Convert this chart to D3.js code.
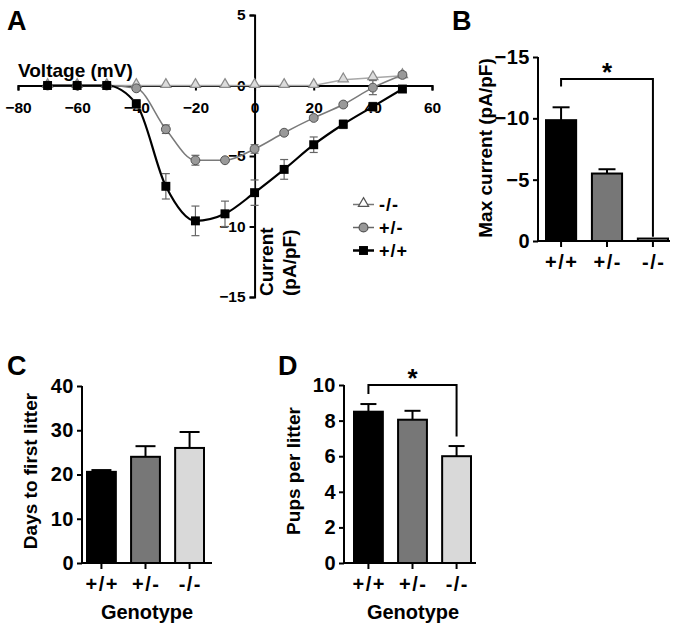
<!DOCTYPE html>
<html><head><meta charset="utf-8">
<script src="https://cdn.jsdelivr.net/npm/d3@7"></script>
<style>
body{margin:0;background:#fff}
svg{display:block;background:#fff}
text{font-family:"Liberation Sans",Arial,sans-serif;font-weight:bold;fill:#000}
</style>
</head><body>
<svg id="c" width="683" height="629"></svg>
<script>
// ---------- DATA ----------
const voltages   = [-70,-60,-50,-40,-30,-20,-10,0,10,20,30,40,50];
const koCurrent  = [0,0,0,0,0,0,0,0,0,0,0.4,0.55,0.7];
const hetCurrent = [0,0,0,-0.2,-3.1,-5.3,-5.3,-4.5,-3.35,-2.3,-1.35,-0.15,0.75];
const hetErr     = [0,0,0,0.1,0.3,0.35,0.15,0.3,0.15,0.15,0.15,0.5,0.2];
const wtCurrent  = [0,0,0,-1.3,-7.15,-9.6,-9.1,-7.6,-5.95,-4.2,-2.75,-1.5,-0.25];
const wtErr      = [0,0,0,0.3,0.9,1.05,0.9,0.9,0.7,0.55,0.3,0.3,0.2];
const xTicksA    = [-80,-60,-40,-20,0,20,40,60];
const yTicksA    = [-15,-10,-5,0,5];
const legendLabels = ["-/-","+/-","+/+"];

const genotypes     = ["+/+","+/-","-/-"];
const maxCurrent    = [-9.85,-5.5,-0.2];
const maxCurrentErr = [1.05,0.35,0];
const yTicksB       = [0,-5,-10,-15];

const daysFirstLitter = [20.6,24.0,26.0];
const daysErr         = [0.4,2.4,3.6];
const yTicksC         = [0,10,20,30,40];

const pupsPerLitter = [8.5,8.05,6.0];
const pupsErr       = [0.43,0.5,0.57];
const yTicksD       = [0,2,4,6,8,10];

// ---------- STYLE ----------
const barFill = ["#000000","#777777","#d9d9d9"];
const svg = d3.select("#c");

function styleAxis(g, fs){
  g.selectAll("path.domain").attr("stroke","#000").attr("stroke-width",2);
  g.selectAll(".tick line").attr("stroke","#000").attr("stroke-width",2);
  g.selectAll(".tick text").attr("font-size",fs).attr("fill","#000")
    .style("font-family",'"Liberation Sans",Arial,sans-serif').style("font-weight","bold");
}

// ---------- PANEL A ----------
const xA = d3.scaleLinear().domain([-80,60]).range([18,432]);
const yA = d3.scaleLinear().domain([-15,5]).range([297,15]);
const gA = svg.append("g");

const gxA = gA.append("g").attr("transform",`translate(0,${yA(0)})`)
  .call(d3.axisBottom(xA).tickValues(xTicksA).tickSize(5).tickSizeOuter(5).tickPadding(11));
styleAxis(gxA,15.5);
const gyA = gA.append("g").attr("transform",`translate(${xA(0)},0)`)
  .call(d3.axisLeft(yA).tickValues(yTicksA).tickSize(5).tickSizeOuter(5).tickPadding(4));
styleAxis(gyA,15.5);

gA.append("text").attr("x",18).attr("y",77).attr("font-size",19).text("Voltage (mV)");
const curLab = gA.append("text").attr("transform",`translate(273,296) rotate(-90)`).attr("font-size",19);
curLab.append("tspan").attr("x",0).attr("y",0).text("Current");
curLab.append("tspan").attr("x",0).attr("y",23).text("(pA/pF)");

const ptsKO  = voltages.map((v,i)=>({v,c:koCurrent[i],e:0}));
const ptsHet = voltages.map((v,i)=>({v,c:hetCurrent[i],e:hetErr[i]}));
const ptsWT  = voltages.map((v,i)=>({v,c:wtCurrent[i],e:wtErr[i]}));

const lineLin = d3.line().x(d=>xA(d.v)).y(d=>yA(d.c));
const lineSm  = d3.line().x(d=>xA(d.v)).y(d=>yA(d.c)).curve(d3.curveMonotoneX);

gA.append("path").datum(ptsKO).attr("d",lineLin).attr("fill","none").attr("stroke","#a8a8a8").attr("stroke-width",1.5);
gA.append("path").datum(ptsHet).attr("d",lineSm).attr("fill","none").attr("stroke","#7a7a7a").attr("stroke-width",1.5);
gA.append("path").datum(ptsWT).attr("d",lineSm).attr("fill","none").attr("stroke","#000").attr("stroke-width",2.2);

function errBarsA(pts, color){
  const g = gA.append("g").attr("stroke",color).attr("stroke-width",1.2);
  pts.filter(d=>d.e>0).forEach(d=>{
    const x=xA(d.v), y1=yA(d.c-d.e), y2=yA(d.c+d.e);
    g.append("line").attr("x1",x).attr("x2",x).attr("y1",y1).attr("y2",y2);
    g.append("line").attr("x1",x-4).attr("x2",x+4).attr("y1",y1).attr("y2",y1);
    g.append("line").attr("x1",x-4).attr("x2",x+4).attr("y1",y2).attr("y2",y2);
  });
}
errBarsA(ptsHet,"#666");
errBarsA(ptsWT,"#666");

const triSym = d3.symbol().type(d3.symbolTriangle).size(45);
const cirSym = d3.symbol().type(d3.symbolCircle).size(62);
const sqSym  = d3.symbol().type(d3.symbolSquare).size(80);

gA.append("g").selectAll("path").data(ptsKO).join("path")
  .attr("d",triSym).attr("transform",d=>`translate(${xA(d.v)},${yA(d.c)-1})`)
  .attr("fill","#dcdcdc").attr("stroke","#8a8a8a").attr("stroke-width",1.2);
gA.append("g").selectAll("path").data(ptsHet).join("path")
  .attr("d",cirSym).attr("transform",d=>`translate(${xA(d.v)},${yA(d.c)})`)
  .attr("fill","#999").attr("stroke","#555").attr("stroke-width",1);
gA.append("g").selectAll("path").data(ptsWT).join("path")
  .attr("d",sqSym).attr("transform",d=>`translate(${xA(d.v)},${yA(d.c)})`)
  .attr("fill","#000");

// legend
const legY = d3.scaleBand().domain(legendLabels).range([193,262]);
const legSpec = {"-/-":{sym:triSym,fill:"#fff",stroke:"#555",line:"#777",lw:1.5},
                 "+/-":{sym:cirSym,fill:"#999",stroke:"#555",line:"#666",lw:1.5},
                 "+/+":{sym:sqSym,fill:"#000",stroke:"none",line:"#000",lw:2.5}};
legendLabels.forEach(l=>{
  const y = legY(l)+legY.bandwidth()/2, s=legSpec[l];
  gA.append("line").attr("x1",353).attr("x2",374).attr("y1",y).attr("y2",y).attr("stroke",s.line).attr("stroke-width",s.lw);
  gA.append("path").attr("d",s.sym).attr("transform",`translate(363.5,${y-(l==="-/-"?1:0)})`)
    .attr("fill",s.fill).attr("stroke",s.stroke).attr("stroke-width",1.2);
  gA.append("text").attr("x",379).attr("y",y+6.5).attr("font-size",18).attr("letter-spacing",1).text(l);
});

// ---------- BAR PANEL HELPER ----------
function barPanel(opt){
  const g = svg.append("g");
  const x = d3.scaleBand().domain(genotypes).range(opt.barRange).paddingInner(0.3).paddingOuter(0);
  const y = d3.scaleLinear().domain(opt.yDomain).range([opt.y0,opt.yTop]);
  // bars
  g.selectAll("rect").data(opt.values).join("rect")
    .attr("x",(d,i)=>x(genotypes[i])+1).attr("width",x.bandwidth()-2)
    .attr("y",d=>Math.min(y(d),y(0))).attr("height",d=>Math.abs(y(0)-y(d)))
    .attr("fill",(d,i)=>barFill[i]).attr("stroke","#000").attr("stroke-width",2);
  // error bars (upward only)
  opt.values.forEach((v,i)=>{
    if(!opt.errs[i]) return;
    const cx = x(genotypes[i])+x.bandwidth()/2;
    const top = v<0 ? v-opt.errs[i] : v+opt.errs[i];
    g.append("line").attr("x1",cx).attr("x2",cx).attr("y1",y(v)).attr("y2",y(top)).attr("stroke","#000").attr("stroke-width",2);
    g.append("line").attr("x1",cx-opt.cap/2).attr("x2",cx+opt.cap/2).attr("y1",y(top)).attr("y2",y(top)).attr("stroke","#000").attr("stroke-width",2);
  });
  // axes
  const gy = g.append("g").attr("transform",`translate(${opt.axisX},0)`)
    .call(d3.axisLeft(y).tickValues(opt.yTicks).tickSize(5).tickSizeOuter(0).tickPadding(3));
  styleAxis(gy,20);
  gy.select("path.domain").attr("d",`M0,${opt.yTop}V${opt.y0}`);
  const gx = g.append("g").attr("transform",`translate(0,${opt.y0})`)
    .call(d3.axisBottom(x).tickSize(6).tickSizeOuter(0).tickPadding(8));
  styleAxis(gx,20);
  gx.select("path.domain").attr("d",`M${opt.axisX},0H${opt.axisEnd}`);
  gx.selectAll(".tick text").attr("letter-spacing",1.5).attr("dx",0.75);
  gy.selectAll(".tick text").attr("letter-spacing",0.5);
  // y title
  g.append("text").attr("transform",`translate(${opt.titleX},${opt.titleY}) rotate(-90)`)
    .attr("text-anchor","middle").attr("font-size",19).text(opt.title);
  if(opt.xTitle) g.append("text").attr("x",opt.xTitleX).attr("y",619).attr("text-anchor","middle").attr("font-size",20).text(opt.xTitle);
  // significance bracket
  if(opt.sig){
    const s=opt.sig;
    const xa = x(genotypes[s.from])+x.bandwidth()/2, xb = x(genotypes[s.to])+x.bandwidth()/2;
    g.append("path").attr("d",`M${xa},${y(s.leftEnd)}V${y(s.level)}H${xb}V${y(s.rightEnd)}`)
      .attr("fill","none").attr("stroke","#000").attr("stroke-width",2);
    g.append("text").attr("x",(xa+xb)/2).attr("y",y(s.level)+2).attr("text-anchor","middle").attr("font-size",26).text("*");
  }
  return g;
}

// ---------- PANEL B ----------
barPanel({barRange:[545,669], axisX:538, axisEnd:670, yDomain:[0,-15], y0:241, yTop:57,
  values:maxCurrent, errs:maxCurrentErr, cap:17, yTicks:yTicksB,
  title:"Max current (pA/pF)", titleX:492, titleY:148,
  sig:{from:0,to:2,level:-13.2,leftEnd:-12.6,rightEnd:-0.35}});

// ---------- PANEL C ----------
barPanel({barRange:[86,205], axisX:82, axisEnd:212, yDomain:[0,40], y0:563, yTop:386,
  values:daysFirstLitter, errs:daysErr, cap:20, yTicks:yTicksC,
  title:"Days to first litter", titleX:37, titleY:471, xTitle:"Genotype", xTitleX:147});

// ---------- PANEL D ----------
barPanel({barRange:[353,472], axisX:344, axisEnd:476, yDomain:[0,10], y0:563, yTop:385,
  values:pupsPerLitter, errs:pupsErr, cap:16, yTicks:yTicksD,
  title:"Pups per litter", titleX:300, titleY:471, xTitle:"Genotype", xTitleX:413,
  sig:{from:0,to:2,level:10,leftEnd:9.5,rightEnd:7.1}});

// ---------- PANEL LETTERS ----------
[["A",7,30],["B",452,30],["C",7,375],["D",278,375]].forEach(([t,x,y])=>{
  svg.append("text").attr("x",x).attr("y",y).attr("font-size",27).text(t);
});
</script>
</body></html>
